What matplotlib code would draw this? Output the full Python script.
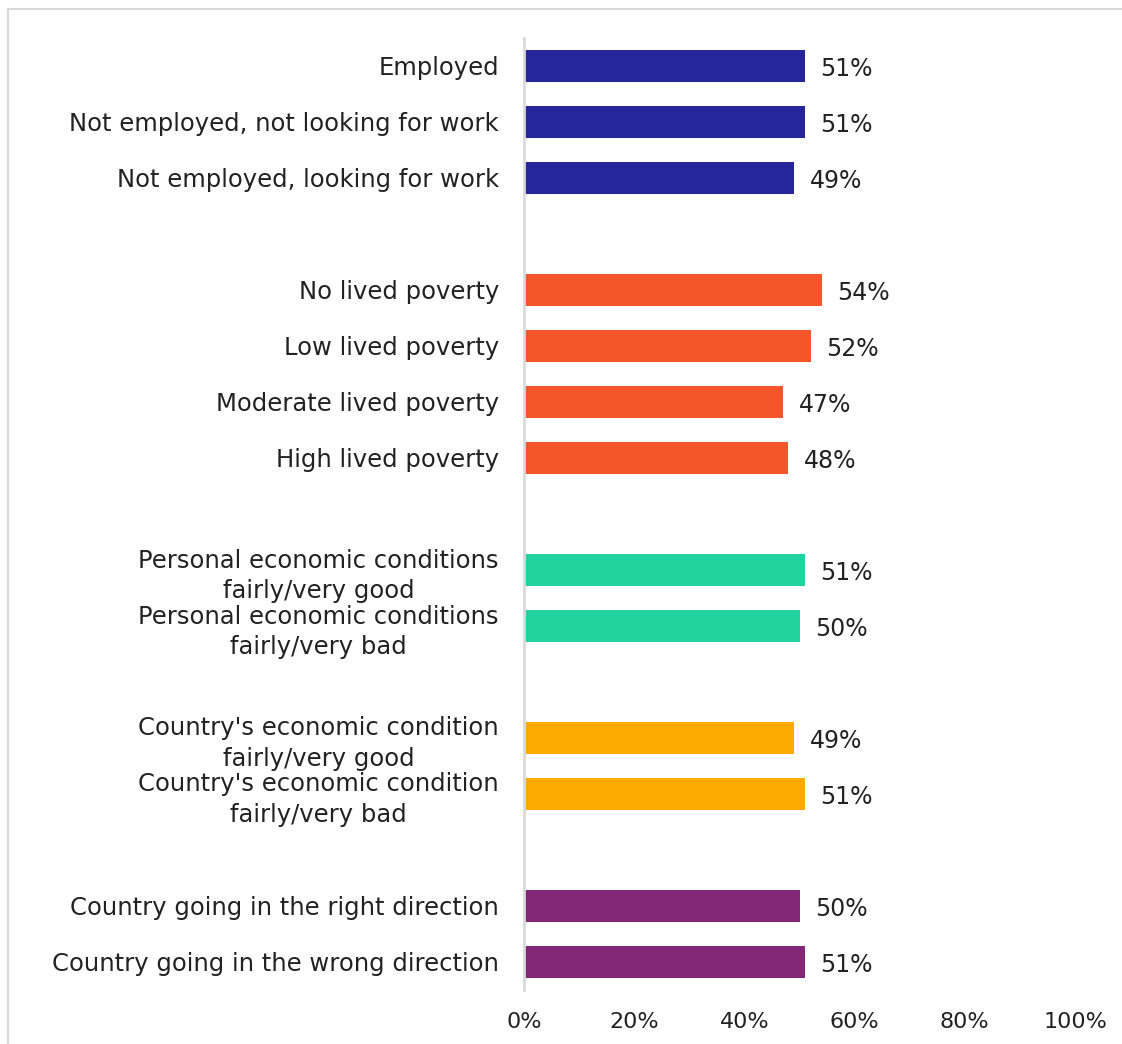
import matplotlib.pyplot as plt
from matplotlib.patches import Rectangle

# rows top to bottom, None = gap between groups
labels = ["Employed", "Not employed, not looking for work", "Not employed, looking for work", None,
          "No lived poverty", "Low lived poverty", "Moderate lived poverty", "High lived poverty", None,
          "Personal economic conditions\nfairly/very good", "Personal economic conditions\nfairly/very bad", None,
          "Country's economic condition\nfairly/very good", "Country's economic condition\nfairly/very bad", None,
          "Country going in the right direction", "Country going in the wrong direction"]
values = [51, 51, 49, None, 54, 52, 47, 48, None, 51, 50, None, 49, 51, None, 50, 51]
groups = [0, 0, 0, None, 1, 1, 1, 1, None, 2, 2, None, 3, 3, None, 4, 4]
group_colors = ["#26269A", "#F4552A", "#22D3A0", "#FFAA00", "#832877"]
xticks = [0, 20, 40, 60, 80, 100]

fig = plt.figure(figsize=(11.22, 10.44), dpi=100)
# light frame, only top and left visible
fig.patches.append(Rectangle((8/1122, -0.1), 1.2, 1.1 - 9/1044, transform=fig.transFigure,
                             fill=False, edgecolor="#D9D9D9", lw=1.5))
ax = fig.add_axes([524/1122, 1 - 990/1044, 551/1122, 952/1044])

ypos, ylabs = [], []
for i, (lab, v, g) in enumerate(zip(labels, values, groups)):
    if lab is None:
        continue
    ax.barh(i, v, height=0.57, color=group_colors[g])
    ax.text(v + 2.8, i + 0.05, f"{v}%", va="center", ha="left", fontsize=17, color="#222222")
    ypos.append(i)
    ylabs.append(lab)

ax.set_ylim(len(labels) - 0.5, -0.5)
ax.set_xlim(0, 100)
ax.set_yticks(ypos)
ax.set_yticklabels(ylabs, fontsize=17.5, color="#222222", linespacing=1.35)
for t in ax.get_yticklabels():
    t.set_multialignment("center")
ax.set_xticks(xticks)
ax.set_xticklabels([f"{x}%" for x in xticks], fontsize=16, color="#222222")
ax.tick_params(axis="both", length=0)
ax.tick_params(axis="y", pad=18)
ax.tick_params(axis="x", pad=16)
for s in ["top", "right", "bottom"]:
    ax.spines[s].set_visible(False)
ax.spines["left"].set_color("#D9D9D9")
ax.spines["left"].set_linewidth(2)

fig.savefig("out.png", dpi=100)
